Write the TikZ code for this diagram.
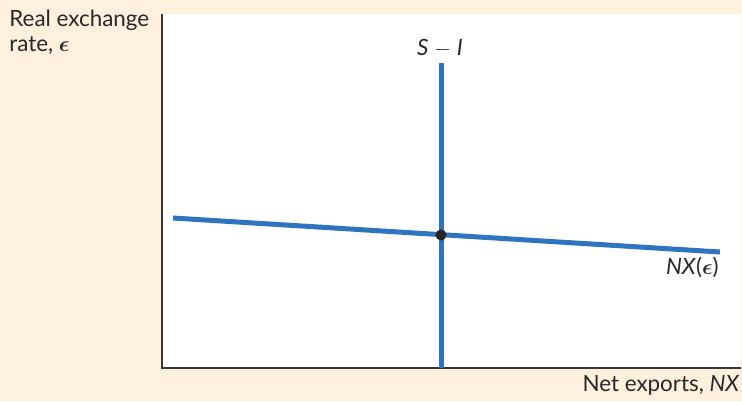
\documentclass[tikz,border=0pt]{standalone}
\usepackage{amsmath}
\usepackage{amssymb}
\usepackage{fontspec}
\setmainfont{Lato}
\usetikzlibrary{arrows.meta}
\definecolor{panelbg}{HTML}{FDF0DC}
\definecolor{curveblue}{HTML}{2F75BE}
\definecolor{axisgray}{HTML}{3A3636}
\definecolor{labelgray}{HTML}{2A2828}

\begin{document}
\begin{tikzpicture}[x=0.5pt, y=-0.5pt, every node/.style={font=\fontsize{11.2}{12.5}\selectfont, text=labelgray}]
	\fill[panelbg] (0,0) rectangle (742,401);
	\fill[white] (162,14) rectangle (741,368);
	\useasboundingbox (0,0) rectangle (742,401);
	\coordinate (origin) at (162,368);
	\coordinate (ytop) at (162,14);
	\coordinate (xend) at (741,368);
	\draw[axisgray, line width=1pt] (ytop) -- (origin) -- (xend);
	\coordinate (si0) at (441,368);
	\coordinate (si1) at (441,63);
	\coordinate (nx0) at (173,218);
	\coordinate (nx1) at (720,252);
	\draw[curveblue, line width=2.5pt] (si0) -- (si1);
	\draw[curveblue, line width=2.5pt] (nx0) -- (nx1);
	\node[circle, fill=black!85, inner sep=0pt, minimum size=5.5pt] (eq) at (441,235) {};
	\node[anchor=base] (silab) at (440,55) {\textit{S} $-$ \textit{I}};
	\node[anchor=base east, inner sep=0pt] (nxlab) at (719,274) {\textit{NX}($\boldsymbol{\epsilon}$)};
	\node[anchor=base east, inner sep=0pt] (xlab) at (740,391) {Net exports, \textit{NX}};
	\node[anchor=north west, align=left, inner sep=0pt] (ylab) at (9,10) {Real exchange\\ rate, $\boldsymbol{\epsilon}$};
\end{tikzpicture}
\end{document}
